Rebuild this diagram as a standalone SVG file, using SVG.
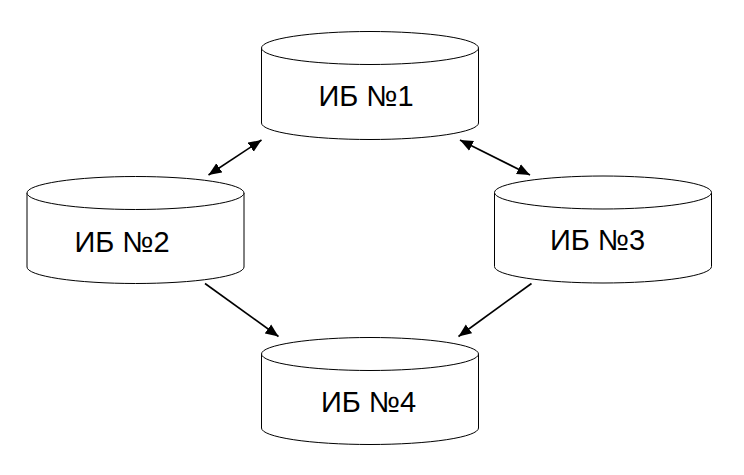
<svg xmlns="http://www.w3.org/2000/svg" width="744" height="475" viewBox="0 0 744 475">
<style>
.cyl{fill:#fff;stroke:#000;stroke-width:1}
.lbl{font-family:"Liberation Sans",Arial,sans-serif;font-size:29px;fill:#000}
.con{stroke:#000;stroke-width:1.6;fill:none}
</style>
<defs>
<marker id="ah" markerUnits="userSpaceOnUse" markerWidth="14" markerHeight="12" refX="13" refY="5.5" orient="auto-start-reverse" viewBox="0 0 14 11">
<path d="M0,0 L13,5.5 L0,11 Z" fill="#000"/>
</marker>
</defs>
<rect width="744" height="475" fill="#fff"/>
<g id="node1">
<path class="cyl" d="M261.5,48 A108.5,16.5 0 0 1 478.5,48 L478.5,123 A108.5,16.5 0 0 1 261.5,123 Z"/>
<path class="cyl" fill="none" d="M261.5,48 A108.5,16.5 0 0 0 478.5,48"/>
<text class="lbl" x="366" y="106" text-anchor="middle">ИБ №1</text>
</g>
<g id="node2">
<path class="cyl" d="M27,193 A108.5,16.5 0 0 1 244,193 L244,267 A108.5,16.5 0 0 1 27,267 Z"/>
<path class="cyl" fill="none" d="M27,193 A108.5,16.5 0 0 0 244,193"/>
<text class="lbl" x="122" y="252" text-anchor="middle">ИБ №2</text>
</g>
<g id="node3">
<path class="cyl" d="M494.5,192.5 A108.5,16.5 0 0 1 711.5,192.5 L711.5,266.5 A108.5,16.5 0 0 1 494.5,266.5 Z"/>
<path class="cyl" fill="none" d="M494.5,192.5 A108.5,16.5 0 0 0 711.5,192.5"/>
<text class="lbl" x="597.5" y="250" text-anchor="middle">ИБ №3</text>
</g>
<g id="node4">
<path class="cyl" d="M261.5,354 A108.5,16.5 0 0 1 478.5,354 L478.5,428 A108.5,16.5 0 0 1 261.5,428 Z"/>
<path class="cyl" fill="none" d="M261.5,354 A108.5,16.5 0 0 0 478.5,354"/>
<text class="lbl" x="368.5" y="412" text-anchor="middle">ИБ №4</text>
</g>
<g id="connectors">
<line class="con" x1="208.5" y1="175" x2="261.5" y2="140" marker-start="url(#ah)" marker-end="url(#ah)"/>
<line class="con" x1="460" y1="140" x2="530" y2="175" marker-start="url(#ah)" marker-end="url(#ah)"/>
<line class="con" x1="205" y1="283.5" x2="278.5" y2="336.5" marker-end="url(#ah)"/>
<line class="con" x1="531.5" y1="283.5" x2="458.5" y2="336.5" marker-end="url(#ah)"/>
</g>
</svg>
